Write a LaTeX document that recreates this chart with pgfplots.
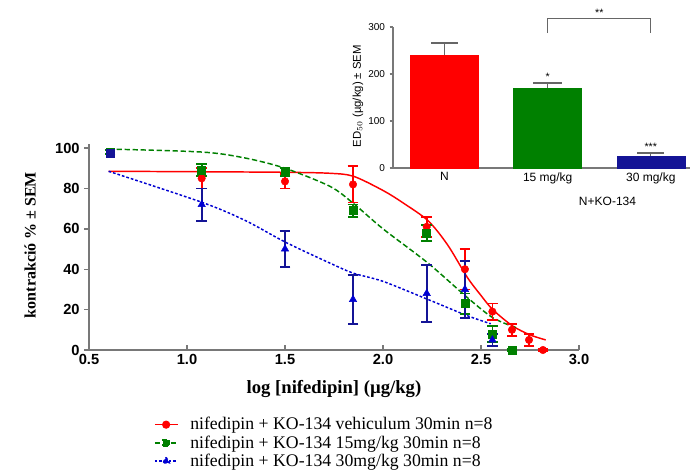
\documentclass[border=0pt]{standalone}
\usepackage{fontspec}
\setmainfont{Liberation Serif}
\setsansfont{Liberation Sans}
\usepackage{pgfplots}
\usepackage{pgfplotstable}
\pgfplotsset{compat=1.18}
\definecolor{cred}{RGB}{255,0,0}
\definecolor{cgreen}{RGB}{0,128,0}
\definecolor{cblue}{RGB}{0,0,210}
\definecolor{cnavy}{RGB}{20,20,150}
\definecolor{axgray}{RGB}{120,120,120}
\pgfplotstableread{
x y e
1.075 85 5
1.50 83.5 3.5
1.847 82 9
2.223 61 5
2.418 40 10
2.558 19 4
2.658 10 3
2.745 5 3
2.816 0 0.6
}\redtab
\pgfplotstableread{
x y e
0.607 98 1
1.075 89 3
1.50 88 2
1.847 69 3
2.223 58 4
2.418 23 5
2.558 8 4
2.658 0 0.6
}\greentab
\pgfplotstableread{
x y e
1.075 72 8
1.50 50 9
1.847 25 12
2.223 28 14
2.418 30 14
2.558 5 3
}\bluetab
\begin{document}
\begin{tikzpicture}
\useasboundingbox (0,0) rectangle (519pt,-351.75pt);
\begin{axis}[
  at={(66.75pt,-262.5pt)}, anchor=south west,
  scale only axis, width=367.5pt, height=154.5pt,
  xmin=0.5, xmax=3.0, ymin=0, ymax=102,
  axis x line*=bottom, axis y line*=left,
  axis line style={axgray, line width=1.2pt},
  xtick={0.5,1.0,1.5,2.0,2.5,3.0}, ytick={0,20,40,60,80,100},
  xticklabel style={/pgf/number format/fixed, /pgf/number format/fixed zerofill, /pgf/number format/precision=1},
  ticklabel style={font=\fontsize{11}{13}\sffamily\bfseries},
  /pgf/number format/assume math mode=true,
  tick style={axgray, line width=1pt},
  major tick length=3.5pt,
  xtick align=inside, ytick align=outside,
  clip=false,
  xlabel={log [nifedipin] (µg/kg)},
  xlabel style={font=\fontsize{14}{16}\bfseries, at={(axis description cs:0.5,-0.19)}, anchor=center},
  ylabel={kontrakció \% ± SEM},
  ylabel style={font=\fontsize{12}{14}\bfseries, at={(axis description cs:-0.12,0.51)}, anchor=center, rotate=0},
  legend style={at={(axis description cs:0.124,-0.30)}, anchor=north west, draw=none, fill=none,
    font=\fontsize{13.3}{15}\selectfont, row sep=-1.2pt, cells={anchor=west},
    /tikz/every odd column/.append style={column sep=7pt}},
  legend cell align=left,
]
% fitted curves
\addplot[cred, line width=1.1pt, smooth, tension=0.5, no marks, forget plot] coordinates {
(0.6,88.5)(1.0,88.3)(1.5,88)(1.73,87.5)(1.85,86)(2.0,79)(2.1,73)(2.23,64)(2.33,52)(2.43,36)(2.5,27)(2.56,20)(2.66,12)(2.75,7.5)(2.83,5)};
\addplot[cgreen, line width=1.1pt, smooth, tension=0.5, no marks, dash pattern=on 4pt off 2pt, forget plot] coordinates {
(0.6,99.5)(1.08,98)(1.3,95)(1.5,90)(1.73,81)(1.85,72.5)(2.0,60)(2.23,43)(2.43,26)(2.56,16)(2.68,11)};
\addplot[cblue, line width=1.1pt, smooth, tension=0.5, no marks, dash pattern=on 2pt off 1.5pt, forget plot] coordinates {
(0.6,88.5)(1.08,73)(1.3,64)(1.5,53.5)(1.73,43)(1.85,38)(2.0,34)(2.23,25)(2.43,17)(2.55,13)};
% data with error bars
\addplot[only marks, mark=*, mark size=2.8pt, color=cred, forget plot,
  error bars/.cd, y dir=both, y explicit,
  error bar style={line width=1.3pt, cred},
  error mark options={rotate=90, mark size=4pt, line width=1.3pt, cred}]
  table[x=x, y=y, y error=e] {\redtab};
\addplot[only marks, mark=square*, mark size=3pt, color=cgreen, forget plot,
  error bars/.cd, y dir=both, y explicit,
  error bar style={line width=1.3pt, cgreen},
  error mark options={rotate=90, mark size=4pt, line width=1.3pt, cgreen}]
  table[x=x, y=y, y error=e] {\greentab};
\addplot[only marks, mark=triangle*, mark size=3.2pt, color=cblue, forget plot,
  error bars/.cd, y dir=both, y explicit,
  error bar style={line width=1.3pt, cnavy},
  error mark options={rotate=90, mark size=4pt, line width=1.3pt, cnavy}]
  table[x=x, y=y, y error=e] {\bluetab};
\addplot[only marks, mark=square*, mark size=3pt, color=cnavy, forget plot] coordinates {(0.607,97.5)};
\addlegendimage{cred, line width=1.1pt, mark=*, mark size=2.5pt}
\addlegendentry{nifedipin + KO-134 vehiculum 30min n=8}
\addlegendimage{cgreen, line width=1.1pt, mark=square*, mark size=2.5pt, dash pattern=on 4pt off 2pt}
\addlegendentry{nifedipin + KO-134 15mg/kg 30min n=8}
\addlegendimage{cblue, line width=1.1pt, mark=triangle*, mark size=2.8pt, dash pattern=on 2pt off 1.5pt}
\addlegendentry{nifedipin + KO-134 30mg/kg 30min n=8}
\end{axis}
% inset bar chart
\begin{axis}[
  at={(294.75pt,-126pt)}, anchor=south west,
  scale only axis, width=222.75pt, height=105.75pt,
  xmin=-0.5, xmax=2.38, ymin=0, ymax=300,
  axis x line*=bottom, axis y line*=left,
  axis line style={axgray, line width=1pt},
  xtick={0,1,2}, xticklabels={N, 15 mg/kg, 30 mg/kg},
  ytick={0,100,200,300},
  tick style={axgray, line width=0.8pt},
  major tick length=2.5pt,
  xtick align=inside, ytick align=outside,
  xticklabel style={font=\fontsize{9}{10}\sffamily},
  yticklabel style={font=\fontsize{7.5}{8}\sffamily},
  /pgf/number format/assume math mode=true,
  clip=false,
  ylabel={ED$_{50}$ (µg/kg) ± SEM},
  ylabel style={font=\fontsize{8.5}{10}\sffamily, at={(axis description cs:-0.118,0.51)}, anchor=center},
]
\addplot[ybar, bar width=51pt, bar shift=0pt, fill=cred, draw=cred,
  error bars/.cd, y dir=plus, y explicit,
  error bar style={line width=0.9pt, black!60},
  error mark options={rotate=90, mark size=10pt, line width=0.9pt, black!60}]
  coordinates {(0,240) +- (0,26)};
\addplot[ybar, bar width=51pt, bar shift=0pt, fill=cgreen, draw=cgreen,
  error bars/.cd, y dir=plus, y explicit,
  error bar style={line width=0.9pt, black!60},
  error mark options={rotate=90, mark size=11pt, line width=0.9pt, black!60}]
  coordinates {(1,170) +- (0,11)};
\addplot[ybar, bar width=51pt, bar shift=0pt, fill=cnavy, draw=cnavy,
  error bars/.cd, y dir=plus, y explicit,
  error bar style={line width=0.9pt, black!60},
  error mark options={rotate=90, mark size=10pt, line width=0.9pt, black!60}]
  coordinates {(2,26) +- (0,6)};
\node[font=\fontsize{8}{9}\sffamily] at (axis cs:1,194) {*};
\node[font=\fontsize{8}{9}\sffamily] at (axis cs:2,46) {***};
\draw[black!60, line width=0.8pt] (axis cs:1,287) -- (axis cs:1,319) -- (axis cs:2,319) -- (axis cs:2,287);
\node[font=\fontsize{8}{9}\sffamily] at (axis cs:1.5,331) {**};
\node[font=\fontsize{9}{10}\sffamily] at (axis cs:1.58,-72) {N+KO-134};
\end{axis}
\end{tikzpicture}
\end{document}
